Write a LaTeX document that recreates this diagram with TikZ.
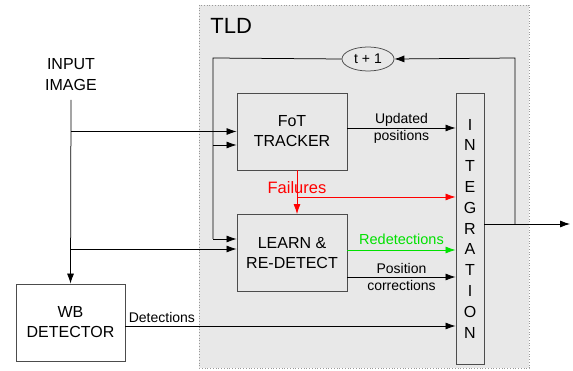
\documentclass[tikz,border=0pt]{standalone}
\usepackage{fontspec}
\setmainfont{Liberation Sans}
\usetikzlibrary{arrows.meta,shapes.geometric}
\definecolor{redetgreen}{RGB}{0,225,0}
\tikzset{
	blk/.style={draw=black!70, line width=0.9pt, minimum width=110pt, minimum height=77pt, inner sep=0pt, align=center, font=\fontsize{16}{20}\selectfont},
	lbl/.style={align=center, inner sep=1pt, font=\fontsize{14}{17}\selectfont},
	arr/.style={-{Latex[length=10pt,width=7pt]}},
}
\begin{document}
\begin{tikzpicture}[x=1pt,y=-1pt,line width=0.75pt]
	\useasboundingbox (0,0) rectangle (573,371);
	% TLD frame
	\draw[fill=black!9, draw=black!40, dotted] (199,5) rectangle (529,368);
	\node [anchor=west, inner sep=0pt, font=\fontsize{22}{26}\selectfont] (tld) at (210,26) {TLD};
	% blocks
	\node [blk] (fot) at (292,131.5) {FoT\\TRACKER};
	\node [blk] (learn) at (292,253) {LEARN \&\\RE-DETECT};
	\node [blk, fill=white, minimum width=109pt] (wb) at (70.5,322.5) {WB\\DETECTOR};
	\node [blk, minimum width=28pt, minimum height=271pt, font=\fontsize{16}{20.8}\selectfont] (integ) at (470,228.5) {I\\N\\T\\E\\G\\R\\A\\T\\I\\O\\N};
	\node [draw=black!70, ellipse, minimum width=52pt, minimum height=24pt, inner sep=0pt, font=\fontsize{14}{16}\selectfont] (tnext) at (368,59) {t + 1};
	\node [align=center, font=\fontsize{16}{21}\selectfont] (input) at (71,74.5) {INPUT\\IMAGE};
	% connector ends
	\coordinate (inTop) at (71,100);
	\coordinate (loopL) at (213,58);
	\coordinate (loopR) at (515,58);
	\coordinate (outEnd) at (570,224);
	\coordinate (fotB) at ([yshift=-13.5pt]fot.west);
	\coordinate (lrnA) at ([yshift=14pt]learn.west);
	\coordinate (lrnB) at ([yshift=4pt]learn.west);
	% input image
	\draw[arr] (inTop) -- (wb.north);
	\draw[arr] (inTop |- fot.west) -- (fot.west);
	\draw[arr] (inTop |- lrnB) -- (lrnB);
	% loop t+1
	\draw[arr] (integ.east |- outEnd) -- (outEnd);
	\draw[arr] (loopR |- outEnd) -- (loopR) -- (tnext.east);
	\draw (tnext.west) -- (loopL) -- (loopL |- lrnA);
	\draw[arr] (loopL |- fotB) -- (fotB);
	\draw[arr] (loopL |- lrnA) -- (lrnA);
	% into integration
	\coordinate (upd) at ([yshift=3.5pt]fot.east);
	\draw[arr] (upd) -- (upd -| integ.west) node [lbl, midway] (updlbl) {Updated\\positions};
	\coordinate (failTop) at ([xshift=5pt]fot.south);
	\coordinate (failMid) at (failTop |- 0,197);
	\draw[red, arr] (failTop) -- ([xshift=5pt]learn.north);
	\draw[red, arr] (failMid) -- (failMid -| integ.west);
	\node [red, inner sep=0pt, font=\fontsize{16.5}{20}\selectfont] (faillbl) at ([yshift=9pt]failMid) {Failures};
	\coordinate (redet) at ([yshift=3pt]learn.east);
	\draw[redetgreen, arr] (redet) -- (redet -| integ.west) node [lbl, midway, yshift=11pt, font=\fontsize{14.5}{17}\selectfont] (redetlbl) {Redetections};
	\coordinate (corr) at ([yshift=-24pt]learn.east);
	\draw[arr] (corr) -- (corr -| integ.west) node [lbl, midway] (corrlbl) {Position\\corrections};
	\coordinate (det) at ([yshift=-3.5pt]wb.east);
	\draw[arr] (det) -- (det -| integ.west) node [lbl, pos=0, above right, inner sep=3pt] (detlbl) {Detections};
\end{tikzpicture}
\end{document}
